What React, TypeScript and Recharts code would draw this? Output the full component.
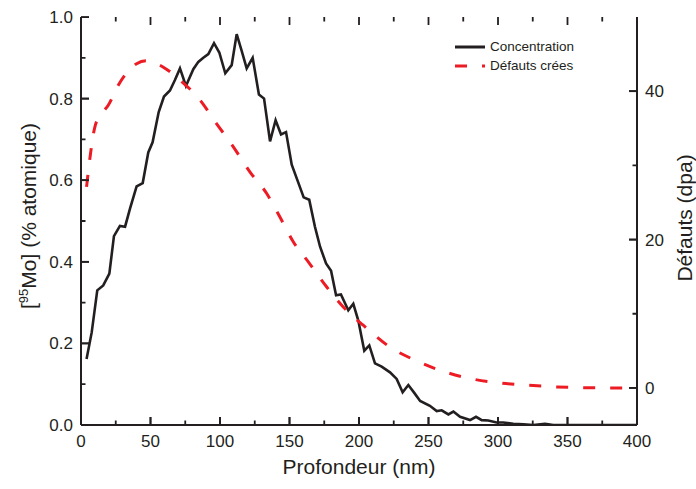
import { LineChart, Line, XAxis, YAxis } from "recharts";

const INK = "#231f20";
const RED = "#ed1c24";
const FONT = "'Liberation Sans', Arial, sans-serif";

// concentration profile, depth (nm) -> [95Mo] (% at.)
const concDepth = [
  4, 7.7, 11.7, 16, 20.4, 23.7, 28, 31.7, 35.3, 40, 44.4, 48.4, 51.5, 55.9, 59.7, 64, 67.5, 71.2, 75.5,
  80.8, 84.4, 88, 91.6, 95.7, 99.5, 103.8, 108.4, 112, 115.6, 119.2, 123.5, 128, 131.7, 136, 140, 143.9,
  147.5, 151.6, 156, 160.2, 164.2, 168.3, 172, 176.3, 179.9, 183.5, 187, 192.3, 195.9, 199.5, 203.8,
  207.4, 211.5, 216.3, 222.3, 227.1, 231.4, 235.5, 239.5, 244, 251, 255.9, 259.5, 264.3, 267.9, 272.7,
  279.9, 284.2, 288.3, 293, 299, 303.8, 311, 318.2, 325.4, 333.8, 339.8, 350, 360, 370, 380, 390, 400,
];
const concValue = [
  0.162, 0.227, 0.33, 0.342, 0.371, 0.463, 0.488, 0.486, 0.531, 0.585, 0.593, 0.668, 0.693, 0.767, 0.805,
  0.82, 0.845, 0.874, 0.831, 0.872, 0.89, 0.9, 0.909, 0.936, 0.913, 0.862, 0.882, 0.958, 0.917, 0.874,
  0.9, 0.81, 0.8, 0.695, 0.747, 0.712, 0.718, 0.638, 0.597, 0.558, 0.552, 0.486, 0.437, 0.396, 0.378,
  0.318, 0.32, 0.281, 0.297, 0.256, 0.182, 0.195, 0.151, 0.143, 0.129, 0.113, 0.08, 0.098, 0.08, 0.059,
  0.047, 0.034, 0.036, 0.026, 0.033, 0.02, 0.012, 0.02, 0.012, 0.011, 0.006, 0.006, 0.003, 0.002, 0,
  0.003, 0, 0, 0, 0, 0, 0, 0,
];

// damage profile, depth (nm) -> dpa
const dpaDepth = [
  4, 6.5, 10, 15, 19.6, 26.8, 33, 40, 47, 54.5, 62, 71.2, 84.4, 97.6, 109.6, 121.6, 133.6, 143.2, 152.7,
  164.3, 176.8, 188.7, 203, 222.3, 241.5, 259.5, 279.9, 301.4, 321.8, 342.2, 363.8, 385, 400,
];
const dpaValue = [
  27.1, 31.1, 35.2, 37, 38.1, 40.8, 42.5, 43.7, 44.1, 43.7, 42.9, 41.5, 39.1, 35.6, 32.5, 29.1, 26.2, 23,
  19.7, 16.8, 13.6, 10.9, 8.45, 5.5, 3.64, 2.3, 1.26, 0.67, 0.36, 0.13, 0.03, 0, 0,
];

const xMajorTicks = [0, 50, 100, 150, 200, 250, 300, 350, 400];
const xMinorTicks = [25, 75, 125, 175, 225, 275, 325, 375];
const leftMajorTicks = [0, 0.2, 0.4, 0.6, 0.8, 1.0];
const leftMinorTicks = [0.1, 0.3, 0.5, 0.7, 0.9];
const rightMajorTicks = [0, 20, 40];
const rightMinorTicks = [10, 30];
const xDomain = [0, 400];
const leftDomain = [0, 1];
const rightDomain = [-5, 50];

const seriesNames = ["Concentration", "Défauts crées"];

const concData = concDepth.map((x, i) => ({ x, conc: concValue[i] }));
const dpaData = dpaDepth.map((x, i) => ({ x, dpa: dpaValue[i] }));

// plot box size in px, only used to turn tick lengths into axis units
const PLOT_W = 556;
const PLOT_H = 408;
const MAJOR = 8;
const MINOR = 4.5;
const xUnit = (xDomain[1] - xDomain[0]) / PLOT_W;
const lUnit = (leftDomain[1] - leftDomain[0]) / PLOT_H;

// inward tick marks as short broken segments (null breaks the path)
type Pt = { x: number; v: number | null };
const seg = (x1: number, y1: number, x2: number, y2: number): Pt[] => [
  { x: x1, v: y1 },
  { x: x2, v: y2 },
  { x: x2, v: null },
];
const withLen = (list: number[], len: number) => list.map((t) => [t, len] as [number, number]);
const xTickMarks: Pt[] = [...withLen(xMajorTicks, MAJOR), ...withLen(xMinorTicks, MINOR)].flatMap(([t, len]) => [
  ...seg(t, leftDomain[0], t, leftDomain[0] + len * lUnit),
  ...seg(t, leftDomain[1], t, leftDomain[1] - len * lUnit),
]);
const leftTickMarks: Pt[] = [...withLen(leftMajorTicks, MAJOR), ...withLen(leftMinorTicks, MINOR)].flatMap(
  ([t, len]) => seg(xDomain[0], t, xDomain[0] + len * xUnit, t)
);
const rightTickMarks: Pt[] = [...withLen(rightMajorTicks, MAJOR), ...withLen(rightMinorTicks, MINOR)].flatMap(
  ([t, len]) => seg(xDomain[1], t, xDomain[1] - len * xUnit, t)
);

const tickStroke = { stroke: INK, strokeWidth: 1.8 };
const tickFont = { fill: INK, fontSize: 17, fontFamily: FONT };

// axis tick lines point inward, so labels are pushed back out by MAJOR
const BottomLabel = (props: any) => (
  <text x={Number(props.x)} y={Number(props.y) + MAJOR + 22} textAnchor="middle" {...tickFont}>
    {String(props.payload.value)}
  </text>
);
const LeftLabel = (props: any) => (
  <text x={Number(props.x) - MAJOR - 8} y={Number(props.y) + 6} textAnchor="end" {...tickFont}>
    {Number(props.payload.value).toFixed(1)}
  </text>
);
const RightLabel = (props: any) => (
  <text x={Number(props.x) + MAJOR + 8} y={Number(props.y) + 6} textAnchor="start" {...tickFont}>
    {String(props.payload.value)}
  </text>
);

const titleStyle = { fill: INK, fontSize: 21, fontFamily: FONT };

const XTitle = () => (
  <text x={359} y={474} textAnchor="middle" {...titleStyle}>
    Profondeur (nm)
  </text>
);

const LeftTitle = () => (
  <text transform="translate(36,216) rotate(-90)" textAnchor="middle" {...titleStyle}>
    [<tspan fontSize={13} dy={-8}>95</tspan>
    <tspan dy={8}>Mo] (% atomique)</tspan>
  </text>
);

const RightTitle = () => (
  <text transform="translate(692,218) rotate(-90)" textAnchor="middle" {...titleStyle}>
    Défauts (dpa)
  </text>
);

function LegendBox() {
  const styles = [
    { color: INK, dash: undefined as string | undefined },
    { color: RED, dash: "12 15" },
  ];
  return (
    <div
      style={{
        position: "absolute",
        left: 455,
        top: 38,
        fontFamily: FONT,
        fontSize: 13.5,
        color: INK,
        lineHeight: "18.5px",
      }}
    >
      {seriesNames.map((name, i) => (
        <div key={name} style={{ display: "flex", alignItems: "center", height: 18.5 }}>
          <svg width={30} height={6} style={{ marginRight: 5 }}>
            <line
              x1={0}
              x2={30}
              y1={3}
              y2={3}
              stroke={styles[i].color}
              strokeWidth={3}
              strokeDasharray={styles[i].dash}
            />
          </svg>
          <span>{name}</span>
        </div>
      ))}
    </div>
  );
}

const tickLineSeries = (data: Pt[], yAxisId: string) => (
  <Line
    data={data}
    xAxisId="bottom"
    yAxisId={yAxisId}
    dataKey="v"
    type="linear"
    stroke={INK}
    strokeWidth={1.8}
    dot={false}
    activeDot={false}
    legendType="none"
    isAnimationActive={false}
  />
);

export default function App() {
  return (
    <div style={{ position: "absolute", left: 0, top: 0, width: 696, height: 489, background: "#fff" }}>
      <LineChart width={696} height={489} margin={{ top: 17, right: 19, bottom: 34, left: 41 }}>
        {/* zero-size minor-tick axes first, so they sit on the frame */}
        <XAxis
          xAxisId="bottomMinor"
          type="number"
          dataKey="x"
          domain={xDomain}
          ticks={xMinorTicks}
          interval={0}
          height={0}
          tickSize={-MINOR}
          tickLine={tickStroke}
          tick={false}
          axisLine={false}
        />
        <XAxis
          xAxisId="bottom"
          dataKey="x"
          type="number"
          domain={xDomain}
          ticks={xMajorTicks}
          interval={0}
          allowDataOverflow
          height={30}
          tickSize={-MAJOR}
          tickMargin={0}
          tickLine={tickStroke}
          tick={<BottomLabel />}
          axisLine={{ stroke: INK, strokeWidth: 2 }}
          label={<XTitle />}
        />
        <XAxis
          xAxisId="topMinor"
          orientation="top"
          type="number"
          dataKey="x"
          domain={xDomain}
          ticks={xMinorTicks}
          interval={0}
          height={0}
          tickSize={-MINOR}
          tickLine={tickStroke}
          tick={false}
          axisLine={false}
        />
        <XAxis
          xAxisId="top"
          orientation="top"
          type="number"
          dataKey="x"
          domain={xDomain}
          ticks={xMajorTicks}
          interval={0}
          height={0}
          tickSize={-MAJOR}
          tickLine={tickStroke}
          tick={false}
          axisLine={{ stroke: INK, strokeWidth: 2 }}
        />
        <YAxis
          yAxisId="leftMinor"
          type="number"
          domain={leftDomain}
          ticks={leftMinorTicks}
          interval={0}
          width={0}
          tickSize={-MINOR}
          tickLine={tickStroke}
          tick={false}
          axisLine={false}
        />
        <YAxis
          yAxisId="left"
          type="number"
          domain={leftDomain}
          ticks={leftMajorTicks}
          interval={0}
          allowDataOverflow
          width={40}
          tickSize={-MAJOR}
          tickMargin={0}
          tickLine={tickStroke}
          tick={<LeftLabel />}
          axisLine={{ stroke: INK, strokeWidth: 2 }}
          label={<LeftTitle />}
        />
        <YAxis
          yAxisId="rightMinor"
          orientation="right"
          type="number"
          domain={rightDomain}
          ticks={rightMinorTicks}
          interval={0}
          width={0}
          tickSize={-MINOR}
          tickLine={tickStroke}
          tick={false}
          axisLine={false}
        />
        <YAxis
          yAxisId="right"
          orientation="right"
          type="number"
          domain={rightDomain}
          ticks={rightMajorTicks}
          interval={0}
          allowDataOverflow
          width={40}
          tickSize={-MAJOR}
          tickMargin={0}
          tickLine={tickStroke}
          tick={<RightLabel />}
          axisLine={{ stroke: INK, strokeWidth: 2 }}
          label={<RightTitle />}
        />
        {tickLineSeries(xTickMarks, "left")}
        {tickLineSeries(leftTickMarks, "left")}
        {tickLineSeries(rightTickMarks, "right")}
        <Line
          data={concData}
          xAxisId="bottom"
          yAxisId="left"
          dataKey="conc"
          name={seriesNames[0]}
          type="linear"
          stroke={INK}
          strokeWidth={2.6}
          dot={false}
          isAnimationActive={false}
        />
        <Line
          data={dpaData}
          xAxisId="bottom"
          yAxisId="right"
          dataKey="dpa"
          name={seriesNames[1]}
          type="monotone"
          stroke={RED}
          strokeWidth={3}
          strokeDasharray="12 15"
          dot={false}
          isAnimationActive={false}
        />
      </LineChart>
      <LegendBox />
    </div>
  );
}
